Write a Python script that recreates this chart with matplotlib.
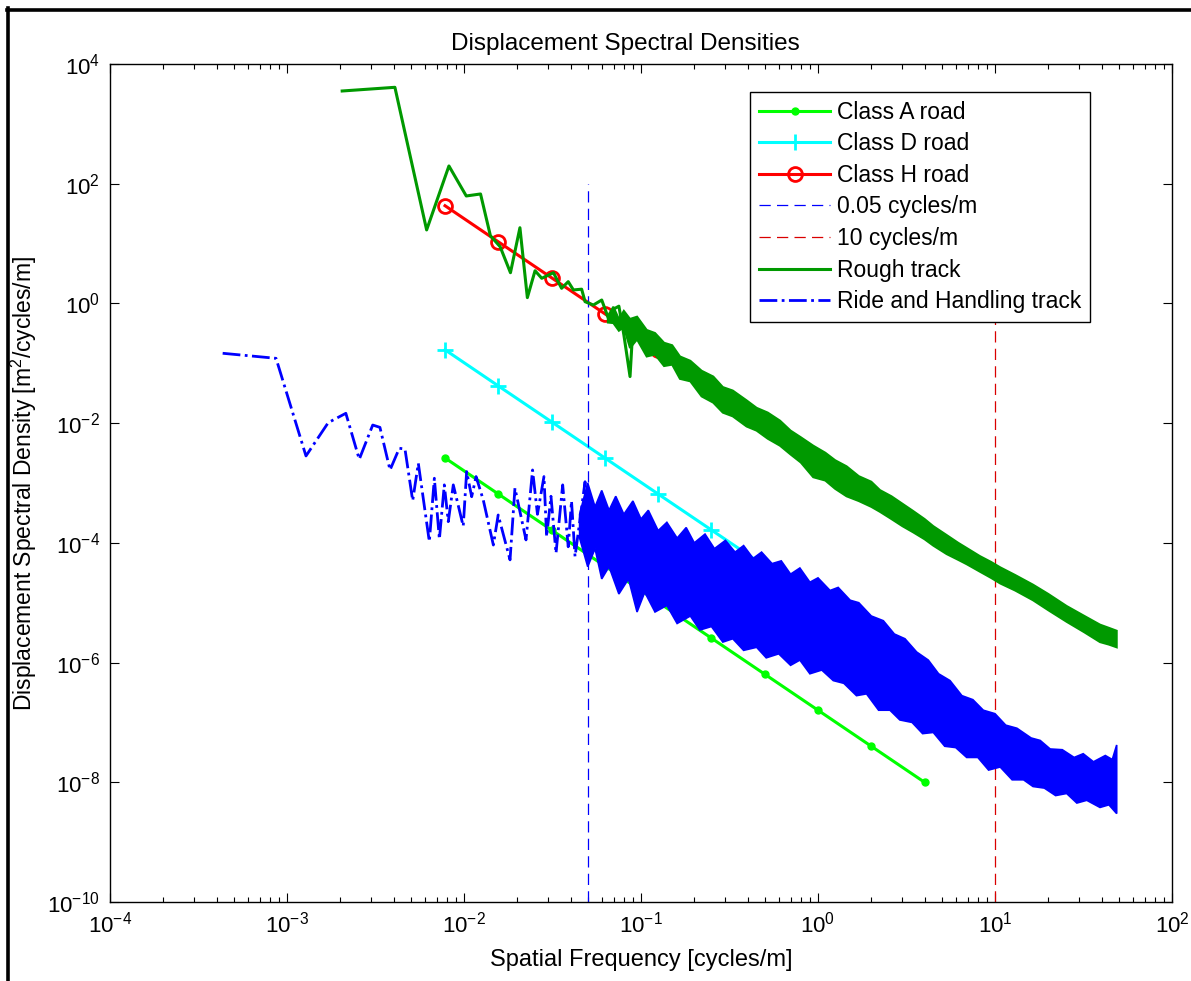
import numpy as np
import matplotlib
matplotlib.use("Agg")
import matplotlib.pyplot as plt
from matplotlib.lines import Line2D
from matplotlib.ticker import LogLocator, NullLocator, NullFormatter, LogFormatterSciNotation

plt.rcParams['font.family'] = ['Liberation Sans', 'DejaVu Sans']
plt.rcParams['mathtext.fontset'] = 'custom'
plt.rcParams['mathtext.rm'] = 'Liberation Sans'
plt.rcParams['mathtext.it'] = 'Liberation Sans:italic'
plt.rcParams['mathtext.bf'] = 'Liberation Sans:bold'

# ---------------- data ----------------
iso_freq = [0.0078125, 0.015625, 0.03125, 0.0625, 0.125, 0.25, 0.5, 1.0, 2.0, 4.0]
class_a = [2.62e-3, 6.55e-4, 1.64e-4, 4.1e-5, 1.02e-5, 2.56e-6, 6.4e-7, 1.6e-7, 4.0e-8, 1.0e-8]
class_d = [0.168, 4.19e-2, 1.05e-2, 2.62e-3, 6.55e-4, 1.64e-4, 4.1e-5, 1.02e-5, 2.56e-6, 6.4e-7]
class_h = [42.9, 10.7, 2.68, 0.671, 0.168, 4.19e-2, 1.05e-2, 2.62e-3, 6.55e-4, 1.64e-4]

cut_low = 0.05
cut_high = 10.0
cut_ymin = 1e-10
cut_ymax = 1e2

# Rough track: low-frequency line part
rough_freq = [0.00205, 0.00407, 0.00615, 0.00822, 0.0103, 0.0124, 0.0141, 0.0160,
              0.0183, 0.0207, 0.0228, 0.0252, 0.0275, 0.032, 0.0356, 0.0388,
              0.0415, 0.0462, 0.0483, 0.0538, 0.060, 0.0655, 0.0698, 0.075,
              0.080, 0.0867, 0.090]
rough_psd = [3540, 4080, 16.9, 198, 62.4, 67.4, 13.5, 8.87,
             3.26, 18.4, 1.25, 3.52, 2.63, 3.26, 1.79, 2.31,
             1.68, 1.73, 1.07, 0.94, 1.14, 0.56, 0.80, 0.90,
             0.30, 0.06, 0.40]
# Rough track: dense high-frequency band (upper / lower envelope)
rough_band_freq = [0.065, 0.0698, 0.075, 0.08, 0.0867, 0.095, 0.1077, 0.12, 0.135, 0.15,
                   0.166, 0.19, 0.22, 0.256, 0.29, 0.33, 0.395, 0.45, 0.52, 0.61,
                   0.7, 0.8, 0.94, 1.1, 1.25, 1.45, 1.7, 2.0, 2.24, 2.6,
                   3.0, 3.45, 4.0, 4.48, 5.33, 6.2, 6.92, 8.22, 9.5, 10.7,
                   13.0, 16.4, 20.0, 25.4, 32.0, 39.2, 44.0, 48.7]
rough_band_hi = [0.62, 0.88, 0.55, 0.75, 0.55, 0.6, 0.36, 0.32, 0.22, 0.2,
                 0.13, 0.11, 0.075, 0.06, 0.04, 0.035, 0.024, 0.018, 0.015, 0.011,
                 7.5e-3, 5.8e-3, 4.2e-3, 3.2e-3, 2.4e-3, 1.9e-3, 1.3e-3, 1.05e-3, 7.6e-4, 6.0e-4,
                 4.5e-4, 3.4e-4, 2.5e-4, 1.9e-4, 1.35e-4, 1.0e-4, 8.2e-5, 6.0e-5, 4.8e-5, 3.9e-5,
                 2.9e-5, 2.0e-5, 1.4e-5, 8.8e-6, 6.0e-6, 4.3e-6, 3.8e-6, 3.4e-6]
rough_band_lo = [0.48, 0.47, 0.35, 0.4, 0.18, 0.25, 0.13, 0.14, 0.09, 0.095,
                 0.055, 0.05, 0.028, 0.022, 0.015, 0.013, 8.8e-3, 7.5e-3, 5.5e-3, 4.2e-3,
                 3.0e-3, 2.2e-3, 1.25e-3, 1.1e-3, 8.0e-4, 6.0e-4, 5.0e-4, 4.0e-4, 3.3e-4, 2.5e-4,
                 1.9e-4, 1.5e-4, 1.15e-4, 9.0e-5, 6.5e-5, 5.2e-5, 4.4e-5, 3.3e-5, 2.6e-5, 2.1e-5,
                 1.6e-5, 1.1e-5, 7.5e-6, 4.8e-6, 3.2e-6, 2.2e-6, 2.0e-6, 1.8e-6]

# Ride and handling track: low-frequency line part
rh_freq = [4.33e-4, 8.67e-4, 1.28e-3, 1.71e-3, 2.15e-3, 2.56e-3, 3.05e-3, 3.35e-3,
           3.82e-3, 4.31e-3, 4.64e-3, 5.13e-3, 5.52e-3, 6.37e-3, 6.8e-3, 7.26e-3,
           7.74e-3, 8.15e-3, 8.7e-3, 9.9e-3, 1.035e-2, 1.105e-2, 1.17e-2, 1.285e-2,
           1.465e-2, 1.56e-2, 1.82e-2, 1.94e-2, 2.24e-2, 2.44e-2, 2.6e-2, 2.83e-2,
           2.93e-2, 3.1e-2, 3.31e-2, 3.61e-2, 3.88e-2, 4.05e-2, 4.24e-2, 4.83e-2, 5.04e-2]
rh_psd = [0.147, 0.121, 2.83e-3, 0.0102, 0.0146, 2.49e-3, 9.3e-3, 8.5e-3,
          1.65e-3, 3.8e-3, 3.7e-3, 5.07e-4, 2.13e-3, 1.05e-4, 1.2e-3, 1.15e-4,
          9.3e-4, 2.26e-4, 9.3e-4, 1.9e-4, 1.55e-3, 5.9e-4, 1.28e-3, 5.2e-4,
          9.2e-5, 2.92e-4, 5.2e-5, 8.2e-4, 1.12e-4, 1.65e-3, 3.0e-4, 1.28e-3,
          1.27e-4, 6.0e-4, 6.7e-5, 9.3e-4, 8.6e-5, 5.0e-4, 5.9e-5, 1.05e-3, 4.6e-5]
# Ride and handling track: dense band envelopes
rh_hi_freq = [0.045, 0.05, 0.055, 0.06, 0.066, 0.072, 0.08, 0.09, 0.1, 0.11,
              0.125, 0.14, 0.16, 0.18, 0.2, 0.23, 0.26, 0.3, 0.34, 0.38,
              0.43, 0.48, 0.55, 0.62, 0.7, 0.79, 0.9, 1.0, 1.17, 1.3,
              1.52, 1.7, 2.0, 2.34, 2.7, 3.1, 3.61, 4.2, 4.8, 5.57,
              6.5, 7.5, 8.59, 10.0, 11.5, 13.3, 16.0, 18.0, 20.5, 24.0,
              28.0, 31.5, 36.0, 42.0, 46.0, 48.7]
rh_hi = [3.0e-4, 1.0e-3, 4.0e-4, 7.5e-4, 3.5e-4, 6.0e-4, 3.0e-4, 5.0e-4, 2.5e-4, 3.5e-4,
         1.6e-4, 2.2e-4, 1.2e-4, 1.8e-4, 1.0e-4, 1.4e-4, 8.0e-5, 1.1e-4, 7.0e-5, 9.0e-5,
         5.5e-5, 7.0e-5, 4.5e-5, 5.0e-5, 3.0e-5, 3.8e-5, 2.2e-5, 2.6e-5, 1.6e-5, 1.8e-5,
         1.1e-5, 1.0e-5, 6.0e-6, 5.0e-6, 3.0e-6, 2.5e-6, 1.5e-6, 1.1e-6, 6.5e-7, 5.0e-7,
         2.8e-7, 2.4e-7, 1.6e-7, 1.4e-7, 9.0e-8, 8.0e-8, 5.5e-8, 5.0e-8, 3.6e-8, 3.5e-8,
         2.6e-8, 3.0e-8, 2.2e-8, 2.8e-8, 2.4e-8, 4.2e-8]
rh_lo_freq = [0.045, 0.05, 0.055, 0.06, 0.066, 0.075, 0.085, 0.095, 0.105, 0.12,
              0.14, 0.16, 0.19, 0.215, 0.25, 0.29, 0.33, 0.38, 0.45, 0.51,
              0.6, 0.7, 0.79, 0.9, 1.05, 1.22, 1.4, 1.65, 1.88, 2.2,
              2.55, 2.9, 3.4, 3.9, 4.48, 5.2, 6.0, 6.92, 8.0, 9.2,
              10.7, 12.5, 14.5, 16.4, 19.0, 22.0, 25.4, 29.0, 33.0, 39.2,
              44.0, 48.7]
rh_lo = [1.2e-4, 4.0e-5, 8.0e-5, 2.5e-5, 4.0e-5, 1.4e-5, 2.5e-5, 7.0e-6, 1.5e-5, 7.0e-6,
         9.0e-6, 4.5e-6, 6.0e-6, 3.5e-6, 4.0e-6, 2.2e-6, 2.5e-6, 1.6e-6, 1.8e-6, 1.2e-6,
         1.4e-6, 9.0e-7, 1.1e-6, 6.5e-7, 7.5e-7, 5.0e-7, 4.5e-7, 2.8e-7, 3.0e-7, 1.6e-7,
         1.6e-7, 1.1e-7, 1.0e-7, 6.5e-8, 6.8e-8, 4.0e-8, 3.8e-8, 2.6e-8, 2.6e-8, 1.6e-8,
         1.8e-8, 1.1e-8, 1.1e-8, 8.5e-9, 8.0e-9, 6.0e-9, 6.5e-9, 4.5e-9, 5.0e-9, 3.8e-9,
         4.2e-9, 3.0e-9]

x_ticks = [1e-4, 1e-3, 1e-2, 1e-1, 1e0, 1e1, 1e2]
y_ticks = [1e-10, 1e-8, 1e-6, 1e-4, 1e-2, 1e0, 1e2, 1e4]

# ---------------- figure ----------------
W, H = 1191, 981
fig = plt.figure(figsize=(W / 100, H / 100), dpi=100)
ax = fig.add_axes([110 / W, 1 - 902 / H, 1062 / W, 838 / H])
ax.set_xscale('log')
ax.set_yscale('log')

green_a = (0, 1, 0)
dark_green = (0, 0.6, 0)
blue = (0, 0, 1)

ax.plot(iso_freq, class_a, '-', color=green_a, lw=2.2, marker='o', ms=5,
        mfc=green_a, mec=green_a, label='Class A road', zorder=2)
ax.plot(iso_freq, class_d, '-', color='cyan', lw=2.2, marker='+', ms=12, mew=2,
        label='Class D road', zorder=2)
ax.plot(iso_freq, class_h, '-', color='red', lw=2.2, marker='o', ms=10, mew=2,
        mfc='none', mec='red', label='Class H road', zorder=2)
ax.plot([cut_low, cut_low], [cut_ymin, cut_ymax], color='blue', lw=0.9,
        ls=(0, (9, 5)), label='0.05 cycles/m', zorder=2)
ax.plot([cut_high, cut_high], [cut_ymin, cut_ymax], color=(0.85, 0, 0), lw=0.9,
        ls=(0, (9, 5)), label='10 cycles/m', zorder=2)

# Rough track
ax.plot(rough_freq, rough_psd, '-', color=dark_green, lw=2.2, label='Rough track', zorder=3)
ax.fill(np.concatenate([rough_band_freq, rough_band_freq[::-1]]),
        np.concatenate([rough_band_hi, rough_band_lo[::-1]]),
        facecolor=dark_green, edgecolor=dark_green, lw=1.5, zorder=3)

# Ride and handling track
ax.plot(rh_freq, rh_psd, color=blue, lw=2.0, ls='-.', label='Ride and Handling track', zorder=4)
ax.fill(np.concatenate([rh_hi_freq, rh_lo_freq[::-1]]),
        np.concatenate([rh_hi, rh_lo[::-1]]),
        facecolor=blue, edgecolor=blue, lw=1.2, zorder=4)

ax.set_xlim(1e-4, 1e2)
ax.set_ylim(1e-10, 1e4)
ax.set_xticks(x_ticks)
ax.set_yticks(y_ticks)
ax.xaxis.set_major_formatter(LogFormatterSciNotation())
ax.yaxis.set_major_formatter(LogFormatterSciNotation())
ax.xaxis.set_minor_locator(LogLocator(base=10, subs=np.arange(2, 10), numticks=20))
ax.xaxis.set_minor_formatter(NullFormatter())
ax.yaxis.set_minor_locator(NullLocator())
ax.tick_params(which='both', direction='in', top=True, right=True, width=0.8, colors='k')
ax.tick_params(which='major', length=6.5, labelsize=16, pad=7)
ax.tick_params(which='minor', length=3.6)
for s in ax.spines.values():
    s.set_linewidth(1.0)

ax.set_title('Displacement Spectral Densities', fontsize=17.5, pad=10,
             x=(625 - 110) / 1062)
ax.set_xlabel('Spatial Frequency [cycles/m]', fontsize=17, labelpad=8)
ax.set_ylabel('Displacement Spectral Density [m$^2$/cycles/m]', fontsize=16.5, labelpad=6)

leg = ax.legend(loc='upper right', bbox_to_anchor=((1090 - 110) / 1062, 1 - (92 - 64) / 838),
                borderaxespad=0, fontsize=16.5, numpoints=1, handlelength=3.1,
                handletextpad=0.3, labelspacing=0.375, borderpad=0.38, fancybox=False,
                framealpha=1, edgecolor='k')
leg.get_frame().set_linewidth(1.0)
leg.set_zorder(10)

# outer frame edges (top and left)
fig.add_artist(Line2D([7 / W, 1], [1 - 9.5 / H, 1 - 9.5 / H], transform=fig.transFigure,
                      color='k', lw=2.6))
fig.add_artist(Line2D([8 / W, 8 / W], [0, 1 - 8 / H], transform=fig.transFigure,
                      color='k', lw=2.6))

fig.savefig('out.png', dpi=100)
